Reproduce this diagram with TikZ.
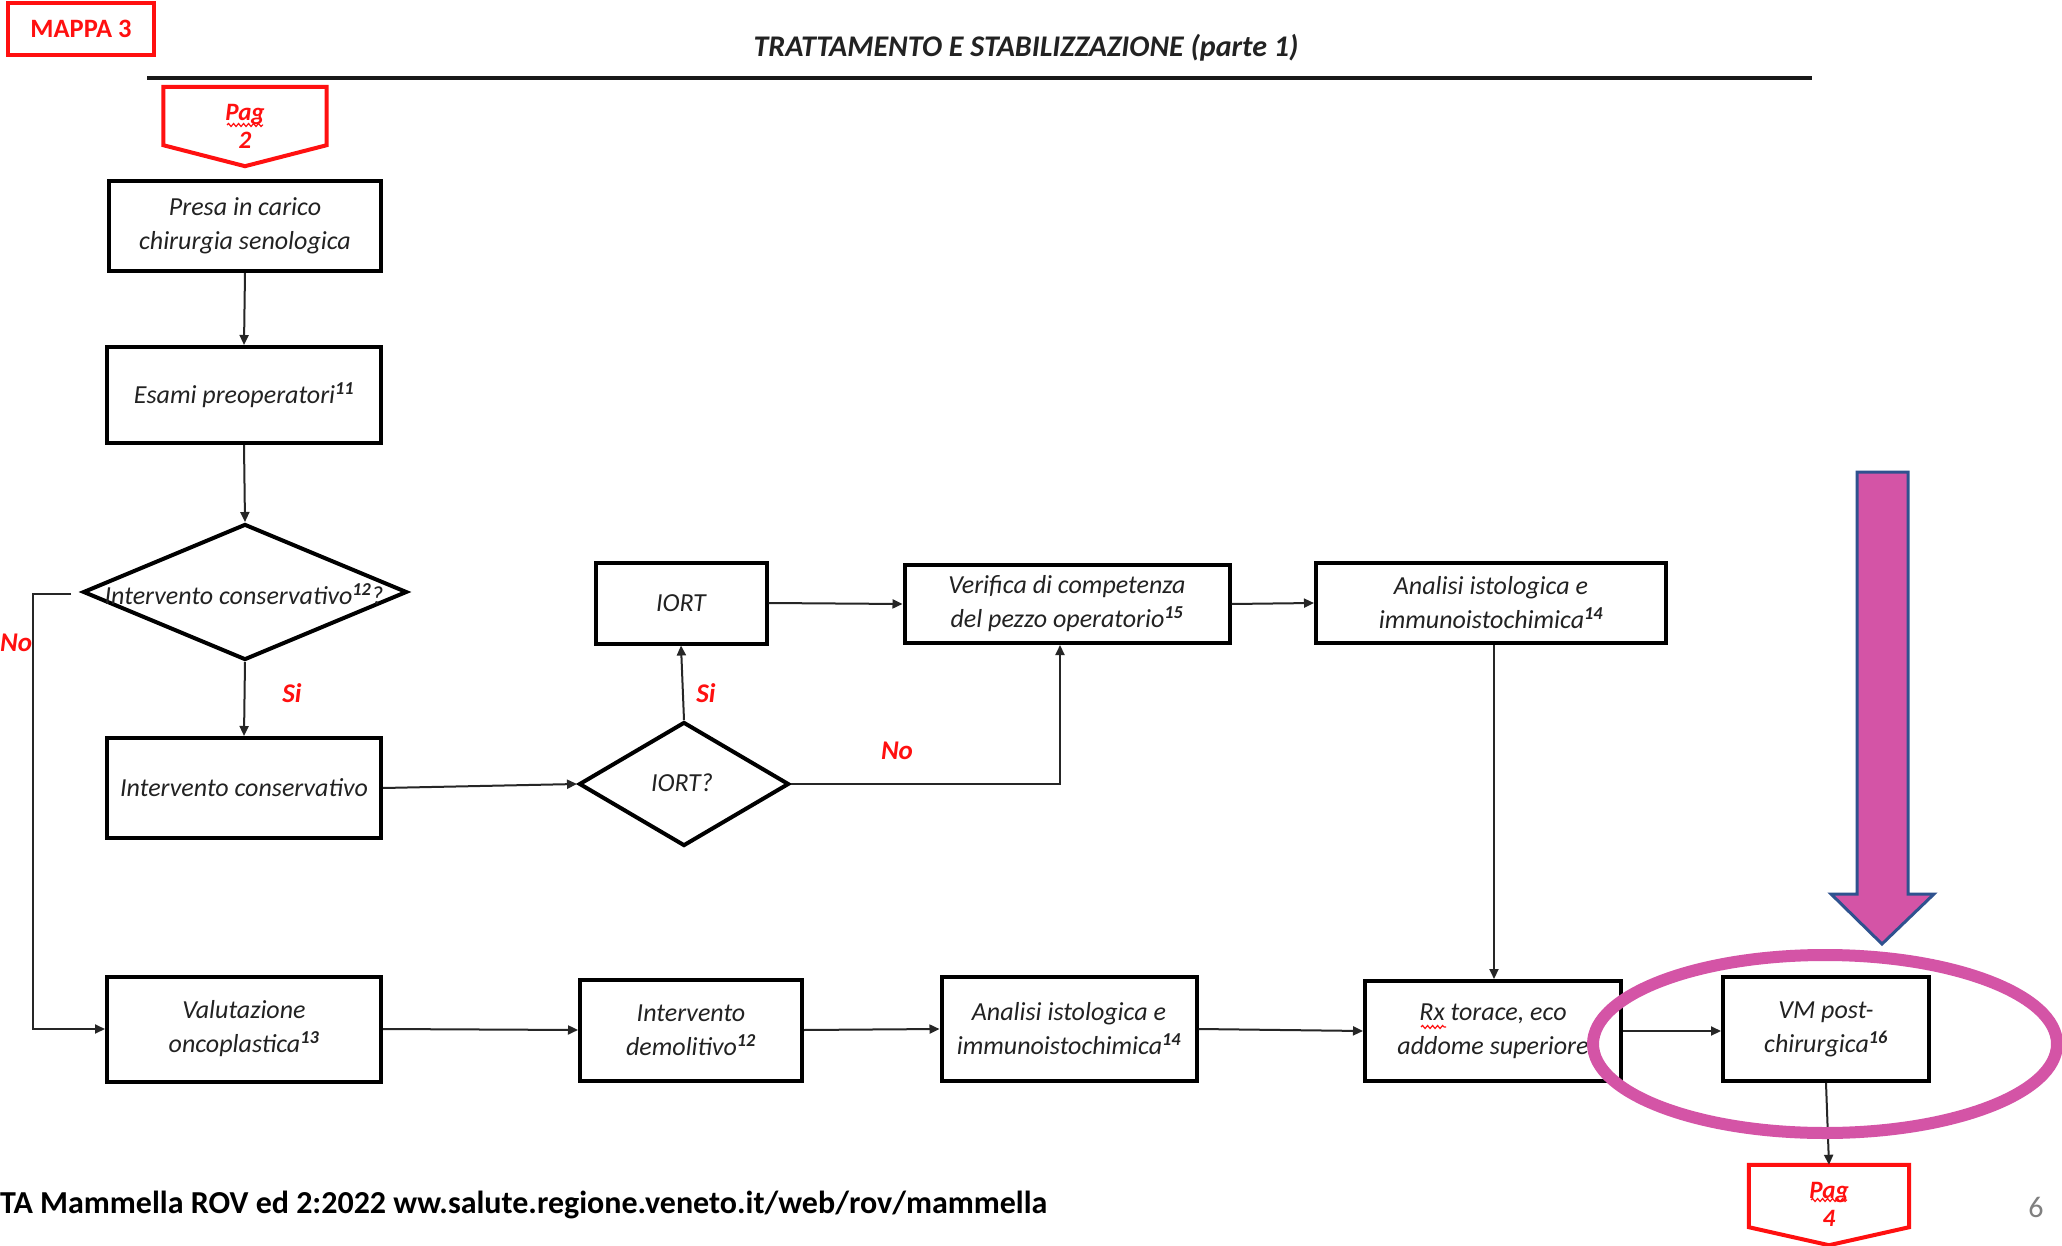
\documentclass[tikz,border=0pt]{standalone}
\usepackage{fontspec}
\setmainfont{Carlito}
\usetikzlibrary{arrows.meta,shapes.geometric,calc,decorations.pathmorphing}
\definecolor{redx}{HTML}{FF1010}
\definecolor{mag}{HTML}{D454A6}
\definecolor{blueo}{HTML}{2F528F}
\definecolor{txt}{HTML}{222222}
\tikzset{
  box/.style={draw=black,line width=4pt,fill=white,align=center,inner sep=2pt,
    font=\fontsize{26}{34}\selectfont\itshape,text=txt},
  dia/.style={draw=black,line width=4pt,shape=diamond,inner sep=0pt,fill=white},
  conn/.style={draw=black!85,line width=2pt,-{Triangle[width=9pt,length=10pt]}},
  redlab/.style={text=redx,font=\fontsize{27}{30}\selectfont\bfseries\itshape},
  pagtext/.style={align=center,inner sep=0pt,text=redx,font=\fontsize{25}{31}\selectfont\bfseries\itshape},
  pagshape/.style={draw=redx,line width=4pt,fill=white,line join=miter},
  squig/.style={draw=redx,line width=1.2pt,decorate,decoration={snake,amplitude=1.5pt,segment length=5pt}}
}
\newcommand{\sups}[1]{\textsuperscript{\bfseries #1}}
\begin{document}
\begin{tikzpicture}[x=1pt,y=-1pt]
\useasboundingbox (0,0) rectangle (2062,1246);
\fill[white] (0,0) rectangle (2062,1246);

% header
\node[draw=redx,line width=4pt,minimum width=146pt,minimum height=52pt,inner sep=0pt,
  text=redx,font=\fontsize{26.5}{30}\selectfont\bfseries] (mappa) at (81,29) {MAPPA 3};
\node[font=\fontsize{30}{34}\selectfont\bfseries\itshape,text=txt] (title) at (1026,48)
  {TRATTAMENTO E STABILIZZAZIONE (parte 1)};
\coordinate (hl1) at (147,78);
\coordinate (hl2) at (1812,78);
\draw[line width=4pt,black!90] (hl1) -- (hl2);

% Pag 2
\node[minimum width=163pt,minimum height=58pt,inner sep=0pt] (pag2) at (245,116) {};
\draw[pagshape] (pag2.north west) -- (pag2.north east) -- (pag2.south east)
  -- ($(pag2.south)+(0,21)$) -- (pag2.south west) -- cycle;
\node[pagtext] (pag2t) at (245,126) {Pag\\[-3pt]2};
\draw[squig] (227,125) -- (263,125);

% boxes
\node[box,minimum width=272pt,minimum height=90pt] (presa) at (245,226) {Presa in carico\\chirurgia senologica};
\node[box,minimum width=274pt,minimum height=96pt] (esami) at (244,395) {Esami preoperatori\sups{11}};
\node[dia,minimum width=324pt,minimum height=136pt] (dia1) at (245,592) {};
\node[font=\fontsize{26}{34}\selectfont\itshape,text=txt,inner sep=0pt] (dia1t) at (244,594) {Intervento conservativo\sups{12}?};
\node[box,minimum width=274pt,minimum height=100pt] (conserv) at (244,788) {Intervento conservativo};
\node[dia,minimum width=210pt,minimum height=124pt] (iortq) at (684,784) {};
\node[font=\fontsize{26}{34}\selectfont\itshape,text=txt,inner sep=0pt] (iortqt) at (682,783) {IORT?};
\node[box,minimum width=171pt,minimum height=81pt] (iort) at (681,603) {IORT};
\node[box,minimum width=325pt,minimum height=78pt] (verif) at (1067,604) {Verifica di competenza\\del pezzo operatorio\sups{15}};
\node[box,minimum width=350pt,minimum height=80pt] (anal1) at (1491,603) {Analisi istologica e\\immunoistochimica\sups{14}};
\node[box,minimum width=274pt,minimum height=105pt] (valut) at (244,1029) {Valutazione\\oncoplastica\sups{13}};
\node[box,minimum width=222pt,minimum height=101pt] (demol) at (691,1030) {Intervento\\demolitivo\sups{12}};
\node[box,minimum width=255pt,minimum height=104pt] (anal2) at (1069,1029) {Analisi istologica e\\immunoistochimica\sups{14}};
\node[box,minimum width=256pt,minimum height=100pt] (rx) at (1493,1031) {Rx torace, eco\\addome superiore};
\node[box,minimum width=206pt,minimum height=104pt] (vm) at (1826,1029) {VM post-\\chirurgica\sups{16}};
\draw[squig] (1421,1027) -- (1446,1027);

% Pag 4
\node[minimum width=160pt,minimum height=62pt,inner sep=0pt] (pag4) at (1829,1196) {};
\draw[pagshape] (pag4.north west) -- (pag4.north east) -- (pag4.south east)
  -- ($(pag4.south)+(0,18)$) -- (pag4.south west) -- cycle;
\node[pagtext] (pag4t) at (1829,1204) {Pag\\[-3pt]4};
\draw[squig] (1811,1200) -- (1847,1200);

% connectors
\draw[conn] (presa.south) -- (esami.north);
\draw[conn] (esami.south) -- (dia1.north);
\draw[conn] (dia1.south) -- (conserv.north);
\coordinate (nostart) at ($(dia1.west)+(-10,2)$);
\coordinate (nocorner) at (33,594);
\draw[conn] (nostart) -- (nocorner) |- (valut.west);
\draw[conn] (conserv.east) -- (iortq.west);
\draw[conn] (iortq.north) -- (iort.south);
\draw[conn] (iort.east) -- (verif.west);
\coordinate (verifin) at ($(verif.south)+(-7,0)$);
\draw[conn] (iortq.east) -| (verifin);
\draw[conn] (verif.east) -- (anal1.west);
\coordinate (anal1out) at ($(anal1.south)+(3,0)$);
\draw[conn] (anal1out) -- (anal1out |- rx.north);
\draw[conn] (valut.east) -- (demol.west);
\draw[conn] (demol.east) -- (anal2.west);
\draw[conn] (anal2.east) -- (rx.west);
\draw[conn] (rx.east) -- ($(vm.west)+(0,2)$);
\draw[conn] (vm.south) -- (pag4.north);

% labels
\node[redlab] (si1) at (292,693) {Si};
\node[redlab,anchor=west,inner sep=0pt] (no1) at (0,643) {No};
\node[redlab] (si2) at (706,693) {Si};
\node[redlab] (no2) at (897,751) {No};

% highlight
\draw[fill=mag,draw=blueo,line width=3pt,line join=miter]
  (1857,472) -- (1908,472) -- (1908,894) -- (1934,894) -- (1882,944) -- (1831,894) -- (1857,894) -- cycle;
\draw[mag,line width=12pt] (1825,1044) ellipse [x radius=232, y radius=89];

% footer
\node[anchor=west,inner sep=0pt,font=\fontsize{32}{36}\selectfont\bfseries,text=black] (foot) at (0,1205)
  {TA Mammella ROV ed 2:2022 ww.salute.regione.veneto.it/web/rov/mammella};
\node[font=\fontsize{30}{36}\selectfont,text=black!50] (pnum) at (2036,1207) {6};
\end{tikzpicture}
\end{document}
